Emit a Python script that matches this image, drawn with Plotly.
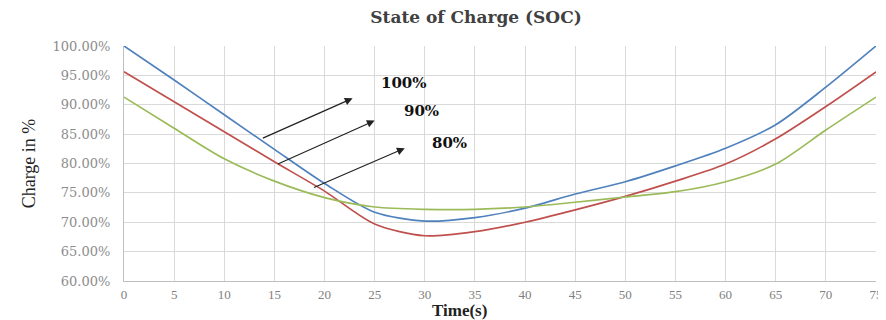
import plotly.graph_objects as go

time_s = [0, 5, 10, 15, 20, 25, 30, 35, 40, 45, 50, 55, 60, 65, 70, 75]
soc_100 = [100.0, 94.2, 88.3, 82.4, 76.6, 71.7, 70.2, 70.8, 72.4, 74.8, 76.9, 79.6, 82.6, 86.6, 93.0, 100.0]
soc_90 = [95.6, 90.5, 85.4, 80.3, 75.3, 69.7, 67.7, 68.4, 70.0, 72.1, 74.4, 77.0, 79.9, 84.2, 89.7, 95.6]
soc_80 = [91.3, 86.0, 80.8, 77.0, 74.2, 72.6, 72.2, 72.2, 72.6, 73.4, 74.3, 75.2, 76.9, 79.9, 85.7, 91.3]

y_ticks = [60, 65, 70, 75, 80, 85, 90, 95, 100]
y_tick_text = ["%.2f%%" % v for v in y_ticks]
x_ticks = list(range(0, 80, 5))

labels = ["100%", "90%", "80%"]
arrow_tail = [(13.7, 84.2), (15.2, 79.8), (18.8, 75.8)]
arrow_head = [(22.8, 91.1), (25.0, 87.3), (28.0, 82.6)]
label_pos = [(27.9, 93.7), (29.7, 89.0), (32.5, 83.5)]

colors = ["#4F81BD", "#C0504D", "#9BBB59"]

W, H = 878, 312
ML, MR, MT, MB = 116, 10, 38, 39
plot_w = W - ML - MR
plot_h = H - MT - MB

fig = go.Figure()
for name, ys, c in zip(labels, [soc_100, soc_90, soc_80], colors):
    fig.add_trace(go.Scatter(x=time_s, y=ys, mode="lines", name=name,
                             line=dict(color=c, width=1.7, shape="spline", smoothing=0.8)))

for (tx, ty), (hx, hy), (lx, ly), lab in zip(arrow_tail, arrow_head, label_pos, labels):
    fig.add_annotation(x=hx, y=hy, ax=tx, ay=ty, xref="x", yref="y", axref="x", ayref="y",
                       showarrow=True, arrowhead=2, arrowsize=1.3, arrowwidth=1.2,
                       arrowcolor="#222222", text="")
    fig.add_annotation(x=lx, y=ly, xref="x", yref="y", text="<b>" + lab + "</b>",
                       showarrow=False, font=dict(family="DejaVu Serif", size=15, color="#111111"))

# x-axis title, positioned like the reference (slightly left of centre)
title_px, title_py = 459 - 8, 310 - 8
fig.add_annotation(x=(title_px - ML) / plot_w, y=1 - (title_py - MT) / plot_h,
                   xref="paper", yref="paper", xanchor="center", yanchor="middle",
                   text="<b>Time(s)</b>", showarrow=False,
                   font=dict(family="Liberation Serif", size=17, color="#222222"))

fig.update_layout(
    width=W, height=H,
    margin=dict(l=ML, r=MR, t=MT, b=MB),
    paper_bgcolor="white", plot_bgcolor="white",
    showlegend=False,
    title=dict(text="<b>State of Charge (SOC)</b>", x=(476 - 8) / W, xanchor="center",
               y=1 - (17 - 8) / H, yanchor="middle",
               font=dict(family="DejaVu Serif", size=17, color="#404040")),
    xaxis=dict(range=[0, 75], tickvals=x_ticks, showgrid=True, gridcolor="#D9D9D9", gridwidth=1,
               showline=True, linecolor="#BFBFBF", zeroline=False, ticks="",
               ticklabelstandoff=1, automargin=False,
               tickfont=dict(family="Liberation Serif", size=13, color="#808080")),
    yaxis=dict(range=[60, 100], tickvals=y_ticks, ticktext=y_tick_text,
               showgrid=True, gridcolor="#D9D9D9", gridwidth=1,
               showline=True, linecolor="#BFBFBF", zeroline=False, ticks="",
               ticklabelstandoff=10, automargin=False,
               tickfont=dict(family="DejaVu Serif", size=13, color="#8C8C8C"),
               title=dict(text="Charge in %", standoff=12,
                          font=dict(family="Liberation Serif", size=18, color="#222222"))),
)

fig.write_html("out.html")
